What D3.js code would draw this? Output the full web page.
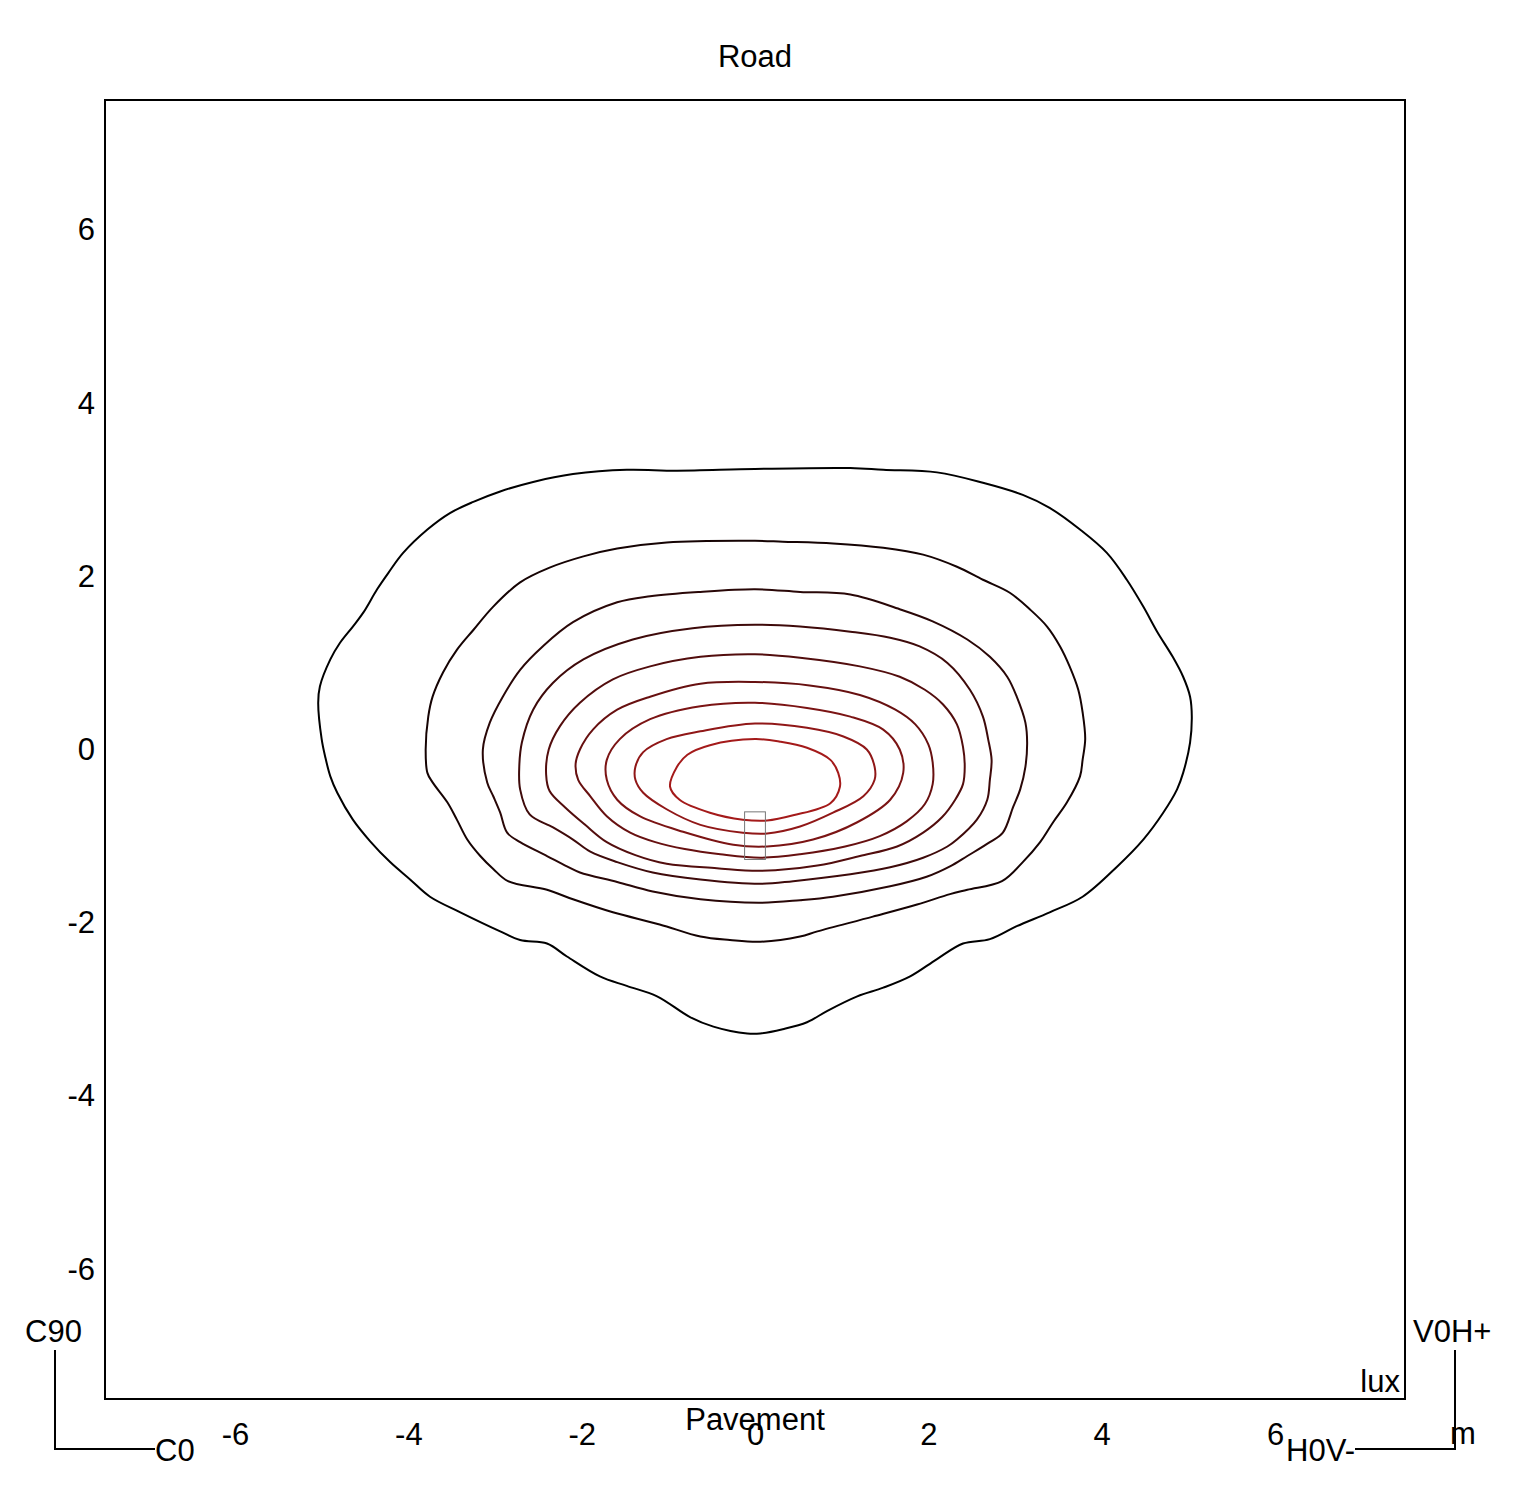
<!DOCTYPE html>
<html>
<head>
<meta charset="utf-8">
<script src="https://cdn.jsdelivr.net/npm/d3@7"></script>
<style>
  body { margin: 0; background: #fff; }
  text { font-family: "Liberation Sans", Arial, sans-serif; fill: #000; }
</style>
</head>
<body>
<svg id="chart" width="1527" height="1500"></svg>
<script>
// isolux lines, outermost first, [x, y] in metres
const iso1 = [[0,3.24],[1.10,3.25],[1.48,3.23],[2.10,3.20],[2.63,3.08],[3.09,2.94],[3.40,2.79],[3.75,2.54],[4.06,2.27],[4.29,1.96],[4.48,1.65],[4.64,1.36],[4.82,1.07],[4.94,0.84],[5.02,0.61],[5.04,0.38],[5.02,0.08],[4.94,-0.27],[4.87,-0.46],[4.71,-0.73],[4.48,-1.04],[4.18,-1.35],[3.78,-1.70],[3.40,-1.88],[3.02,-2.04],[2.71,-2.19],[2.40,-2.24],[2.10,-2.42],[1.79,-2.62],[1.48,-2.75],[1.18,-2.85],[0.83,-3.02],[0.60,-3.15],[0.32,-3.23],[0.06,-3.28],[-0.09,-3.28],[-0.48,-3.20],[-0.75,-3.09],[-1.13,-2.85],[-1.48,-2.73],[-1.79,-2.62],[-2.17,-2.39],[-2.40,-2.24],[-2.71,-2.20],[-2.94,-2.10],[-3.40,-1.88],[-3.75,-1.70],[-3.98,-1.50],[-4.21,-1.30],[-4.44,-1.06],[-4.64,-0.81],[-4.82,-0.50],[-4.90,-0.31],[-4.96,-0.08],[-5.00,0.12],[-5.04,0.54],[-5.02,0.73],[-4.90,1.04],[-4.79,1.23],[-4.64,1.42],[-4.52,1.58],[-4.36,1.85],[-4.23,2.04],[-4.06,2.27],[-3.78,2.54],[-3.52,2.73],[-3.25,2.86],[-2.94,2.98],[-2.56,3.09],[-2.10,3.18],[-1.48,3.23],[-0.90,3.22]];
const iso2 = [[0,2.41],[0.32,2.40],[0.90,2.38],[1.48,2.33],[1.94,2.25],[2.33,2.11],[2.63,1.96],[2.94,1.81],[3.17,1.62],[3.37,1.42],[3.52,1.19],[3.63,0.96],[3.73,0.69],[3.78,0.43],[3.81,0.12],[3.78,-0.12],[3.75,-0.31],[3.60,-0.61],[3.44,-0.84],[3.29,-1.07],[3.09,-1.30],[2.85,-1.52],[2.45,-1.62],[2.25,-1.67],[1.87,-1.79],[1.36,-1.93],[0.72,-2.10],[0.52,-2.16],[0.06,-2.22],[-0.29,-2.20],[-0.63,-2.16],[-1.10,-2.02],[-1.64,-1.88],[-2.10,-1.73],[-2.40,-1.62],[-2.85,-1.52],[-3.02,-1.38],[-3.17,-1.23],[-3.32,-1.04],[-3.44,-0.81],[-3.55,-0.61],[-3.72,-0.38],[-3.78,-0.27],[-3.80,0],[-3.77,0.38],[-3.72,0.61],[-3.60,0.89],[-3.44,1.15],[-3.25,1.38],[-3.02,1.65],[-2.71,1.93],[-2.37,2.10],[-1.98,2.23],[-1.59,2.32],[-1.02,2.39]];
const iso3 = [[0,1.85],[0.52,1.82],[1.10,1.79],[1.67,1.62],[2.05,1.48],[2.45,1.27],[2.71,1.07],[2.91,0.84],[3.02,0.61],[3.12,0.31],[3.14,0.08],[3.12,-0.20],[3.06,-0.46],[2.98,-0.66],[2.86,-0.96],[2.71,-1.07],[2.45,-1.23],[2.25,-1.35],[1.98,-1.47],[1.56,-1.58],[0.90,-1.70],[0.52,-1.74],[0.06,-1.77],[-0.63,-1.73],[-1.18,-1.64],[-1.59,-1.53],[-2.02,-1.42],[-2.17,-1.35],[-2.40,-1.23],[-2.71,-1.07],[-2.86,-0.96],[-2.94,-0.73],[-3.02,-0.54],[-3.09,-0.38],[-3.14,0],[-3.06,0.31],[-2.91,0.61],[-2.71,0.92],[-2.45,1.19],[-2.10,1.47],[-1.59,1.70],[-1.21,1.77],[-0.63,1.82]];
const iso4 = [[0,1.44],[0.52,1.42],[1.10,1.36],[1.56,1.29],[1.90,1.19],[2.22,1.00],[2.48,0.69],[2.63,0.38],[2.69,0.12],[2.73,-0.12],[2.71,-0.35],[2.68,-0.58],[2.56,-0.81],[2.33,-1.04],[2.22,-1.12],[1.94,-1.25],[1.56,-1.36],[1.10,-1.44],[0.44,-1.52],[0.06,-1.55],[-0.63,-1.50],[-1.18,-1.42],[-1.59,-1.30],[-1.90,-1.18],[-2.10,-1.04],[-2.33,-0.90],[-2.60,-0.75],[-2.71,-0.46],[-2.72,-0.20],[-2.69,0.08],[-2.56,0.46],[-2.33,0.77],[-1.98,1.04],[-1.41,1.27],[-0.72,1.40]];
const iso5 = [[0,1.10],[0.52,1.06],[1.21,0.96],[1.67,0.84],[1.96,0.69],[2.17,0.52],[2.33,0.29],[2.40,0.03],[2.42,-0.20],[2.40,-0.40],[2.31,-0.58],[2.16,-0.78],[1.94,-0.96],[1.64,-1.12],[1.21,-1.23],[0.72,-1.34],[0.06,-1.40],[-0.44,-1.37],[-1.02,-1.32],[-1.38,-1.22],[-1.71,-1.07],[-1.96,-0.87],[-2.19,-0.67],[-2.37,-0.48],[-2.41,-0.29],[-2.38,0],[-2.25,0.27],[-2.02,0.54],[-1.64,0.81],[-1.21,0.96],[-0.63,1.07]];
const iso6 = [[0,0.78],[0.63,0.74],[1.21,0.63],[1.62,0.46],[1.85,0.29],[2.00,0.06],[2.05,-0.15],[2.05,-0.40],[1.96,-0.63],[1.75,-0.83],[1.44,-1.00],[1.04,-1.12],[0.52,-1.21],[0.06,-1.25],[-0.40,-1.21],[-0.81,-1.15],[-1.15,-1.07],[-1.44,-0.96],[-1.71,-0.77],[-1.90,-0.54],[-2.04,-0.35],[-2.07,-0.17],[-2.02,0],[-1.87,0.23],[-1.59,0.46],[-1.21,0.61],[-0.63,0.76]];
const iso7 = [[0,0.54],[0.60,0.48],[1.10,0.38],[1.48,0.23],[1.67,0],[1.71,-0.27],[1.56,-0.58],[1.18,-0.84],[0.67,-1.04],[0.14,-1.12],[-0.25,-1.10],[-0.83,-0.95],[-1.33,-0.77],[-1.59,-0.58],[-1.71,-0.35],[-1.71,-0.12],[-1.56,0.12],[-1.21,0.35],[-0.63,0.50]];
const iso8 = [[0,0.30],[0.60,0.25],[1.02,0.15],[1.29,0],[1.38,-0.20],[1.38,-0.35],[1.25,-0.54],[0.90,-0.73],[0.52,-0.89],[0.14,-0.97],[-0.14,-0.96],[-0.63,-0.87],[-1.02,-0.69],[-1.29,-0.50],[-1.38,-0.35],[-1.38,-0.20],[-1.29,-0.03],[-1.02,0.12],[-0.63,0.21]];
const iso9 = [[0,0.12],[0.29,0.09],[0.60,0.02],[0.87,-0.12],[0.96,-0.27],[0.98,-0.43],[0.87,-0.62],[0.44,-0.76],[0.14,-0.82],[-0.14,-0.81],[-0.52,-0.73],[-0.87,-0.58],[-0.98,-0.43],[-0.90,-0.20],[-0.78,-0.06],[-0.52,0.05]];

// luminaire footprint [x0, x1, y0, y1]
const luminaire = [-0.12, 0.12, -1.27, -0.72];

const xTicks = [-6, -4, -2, 0, 2, 4, 6];
const yTicks = [-6, -4, -2, 0, 2, 4, 6];
const extent = [-7.5, 7.5];

const svg = d3.select("#chart");
const frame = {left: 105, right: 1405, top: 100, bottom: 1399};

const x = d3.scaleLinear().domain(extent).range([frame.left, frame.right]);
const y = d3.scaleLinear().domain(extent).range([frame.bottom, frame.top]);

const contours = [iso1, iso2, iso3, iso4, iso5, iso6, iso7, iso8, iso9];
const color = d3.interpolateRgb("#000000", "#a41a1a");

const line = d3.line()
    .x(d => x(d[0]))
    .y(d => y(d[1]))
    .curve(d3.curveCatmullRomClosed.alpha(0.5));

svg.append("g").selectAll("path")
    .data(contours)
  .enter().append("path")
    .attr("d", line)
    .attr("fill", "none")
    .attr("stroke", (d, i) => color(i / (contours.length - 1)))
    .attr("stroke-width", 2);

// luminaire
svg.append("rect")
    .attr("x", x(luminaire[0]))
    .attr("y", y(luminaire[3]))
    .attr("width", x(luminaire[1]) - x(luminaire[0]))
    .attr("height", y(luminaire[2]) - y(luminaire[3]))
    .attr("fill", "none")
    .attr("stroke", "#777")
    .attr("stroke-width", 1);

// frame
svg.append("rect")
    .attr("x", frame.left).attr("y", frame.top)
    .attr("width", frame.right - frame.left).attr("height", frame.bottom - frame.top)
    .attr("fill", "none")
    .attr("stroke", "#000")
    .attr("stroke-width", 2);

// axes, labels only (plain hyphen minus as in the original)
const fmt = d => String(d);
const xAxis = svg.append("g")
    .attr("transform", "translate(0," + frame.bottom + ")")
    .call(d3.axisBottom(x).tickValues(xTicks).tickSize(0).tickPadding(24).tickFormat(fmt));
const yAxis = svg.append("g")
    .attr("transform", "translate(" + frame.left + ",0)")
    .call(d3.axisLeft(y).tickValues(yTicks).tickSize(0).tickPadding(10).tickFormat(fmt));
[xAxis, yAxis].forEach(a => {
  a.select(".domain").remove();
  a.selectAll("text").style("font-size", "31px").style("font-family", "'Liberation Sans', Arial, sans-serif").attr("fill", "#000");
});

const label = (tx, ty, s, anchor) => svg.append("text")
    .attr("x", tx).attr("y", ty)
    .attr("text-anchor", anchor || "start")
    .style("font-size", "31px")
    .text(s);

label(755, 67, "Road", "middle");
label(755, 1430, "Pavement", "middle");
label(1400, 1392, "lux", "end");
label(25, 1342, "C90");
label(155, 1461, "C0");
label(1413, 1342, "V0H+");
label(1355, 1461, "H0V-", "end");
label(1450, 1444, "m");

// orientation markers
svg.append("path")
    .attr("d", "M55,1350V1449H155")
    .attr("fill", "none").attr("stroke", "#000").attr("stroke-width", 2);
svg.append("path")
    .attr("d", "M1455,1350V1449H1355")
    .attr("fill", "none").attr("stroke", "#000").attr("stroke-width", 2);
</script>
</body>
</html>
